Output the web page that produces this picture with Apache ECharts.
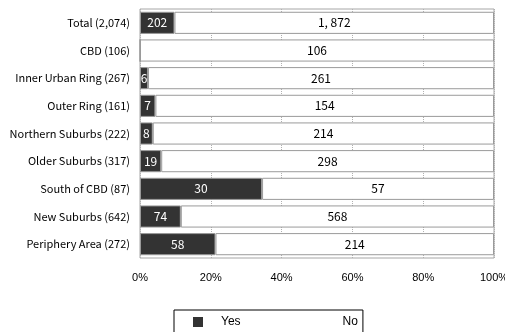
<!DOCTYPE html>
<html>
<head>
<meta charset="utf-8">
<style>
  html, body { margin: 0; padding: 0; background: #fff; }
  #chart { width: 505px; height: 332px; }
</style>
<script src="https://cdn.jsdelivr.net/npm/echarts@6/dist/echarts.min.js"></script>
</head>
<body>
<div id="chart"></div>
<script>
// Respondents per area, split into Yes / No answers
const categories = [
  'Total (2,074)',
  'CBD (106)',
  'Inner Urban Ring (267)',
  'Outer Ring (161)',
  'Northern Suburbs (222)',
  'Older Suburbs (317)',
  'South of CBD (87)',
  'New Suburbs (642)',
  'Periphery Area (272)'
];
const yesCounts = [202, 0, 6, 7, 8, 19, 30, 74, 58];
const noCounts = [1872, 106, 261, 154, 214, 298, 57, 568, 214];
const tickValues = [0, 20, 40, 60, 80, 100];

const GOTHIC = '"Noto Sans CJK JP", sans-serif';
const PLAIN = '"Liberation Sans", Arial, sans-serif';

// Share of each answer within its row, in percent
function shares(counts) {
  return counts.map((c, i) => {
    const total = yesCounts[i] + noCounts[i];
    return { value: c / total * 100, count: c };
  });
}

function countLabel(p) {
  const n = p.data.count;
  if (!n) return '';
  return n.toLocaleString('en-US').replace(/,/g, ', ');
}

const chart = echarts.init(document.getElementById('chart'), null, { renderer: 'canvas' });

chart.setOption({
  animation: false,
  backgroundColor: '#ffffff',
  grid: {
    left: 140, right: 11, top: 9, height: 249,
    outerBoundsMode: 'none',
    containLabel: false,
    show: true, borderColor: '#a6a6a6', borderWidth: 1,
    backgroundColor: 'transparent'
  },
  legend: {
    left: 174, top: 310,
    data: [
      { name: 'Yes', icon: 'rect', itemStyle: { color: '#333333', borderWidth: 0 } },
      { name: 'No', icon: 'rect', itemStyle: { color: '#ffffff', borderWidth: 0 } }
    ],
    orient: 'horizontal',
    borderColor: '#000000', borderWidth: 1,
    padding: [6, 5, 12, 19],
    itemWidth: 10, itemHeight: 10,
    itemGap: 74,
    selectedMode: false,
    textStyle: { fontFamily: PLAIN, fontSize: 12, color: '#000', padding: [0, 0, 0, 13] }
  },
  xAxis: {
    type: 'value',
    min: 0, max: 100, interval: 20,
    axisLine: { show: false },
    axisTick: { show: false },
    axisLabel: {
      formatter: v => tickValues.includes(v) ? v + '%' : '',
      fontFamily: PLAIN, fontSize: 11, color: '#000', margin: 14
    },
    splitLine: { show: true, lineStyle: { color: '#b0b0b0', type: 'dotted', width: 1 } }
  },
  yAxis: {
    type: 'category',
    data: categories,
    inverse: true,
    axisLine: { show: false },
    axisTick: { show: false },
    splitLine: { show: false },
    axisLabel: { fontFamily: GOTHIC, fontSize: 11, color: '#000', margin: 10 }
  },
  series: [
    {
      name: 'Yes',
      type: 'bar',
      stack: 'answers',
      barCategoryGap: '20%',
      itemStyle: { color: '#333333', borderColor: '#9a9a9a', borderWidth: 1 },
      label: {
        show: true, position: 'inside', formatter: countLabel,
        fontFamily: GOTHIC, fontSize: 12, color: '#ffffff'
      },
      data: shares(yesCounts)
    },
    {
      name: 'No',
      type: 'bar',
      stack: 'answers',
      barCategoryGap: '20%',
      itemStyle: { color: '#ffffff', borderColor: '#9a9a9a', borderWidth: 1 },
      label: {
        show: true, position: 'inside', formatter: countLabel,
        fontFamily: GOTHIC, fontSize: 12, color: '#000000'
      },
      data: shares(noCounts)
    }
  ]
});
</script>
</body>
</html>
